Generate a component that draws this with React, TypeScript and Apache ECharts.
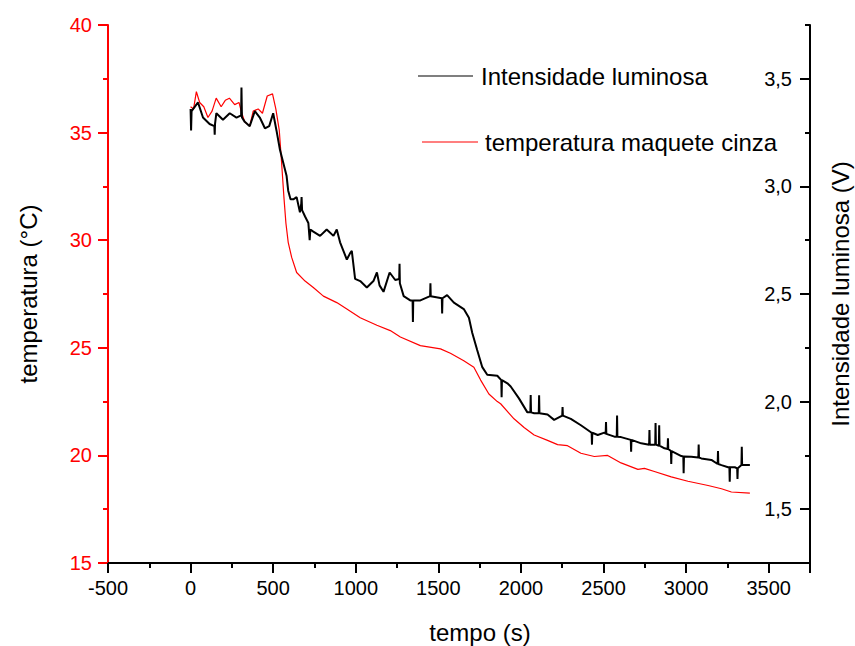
import React, { useEffect, useRef } from "react";
import * as echarts from "echarts";

// temperatura maquete cinza (°C), left axis
const tempTime = [0, 18, 35, 55, 80, 105, 130, 155, 185, 210, 235, 267, 293, 310, 328, 358, 379, 409, 435, 464, 496, 516, 537, 551, 565, 577, 591, 612, 642, 693, 743, 804, 885, 946, 1027, 1128, 1209, 1270, 1391, 1513, 1573, 1654, 1715, 1756, 1806, 1857, 1877, 1958, 2019, 2080, 2161, 2222, 2282, 2363, 2444, 2525, 2606, 2708, 2748, 2808, 2910, 3011, 3133, 3214, 3274, 3386];
const tempValues = [36.2, 36.1, 36.9, 36.4, 36.2, 35.7, 36.0, 36.6, 36.2, 36.5, 36.6, 36.3, 36.4, 35.9, 35.5, 35.3, 36.0, 36.1, 35.9, 36.7, 36.8, 36.1, 35.1, 33.6, 32.0, 30.8, 29.9, 29.2, 28.5, 28.1, 27.8, 27.4, 27.1, 26.8, 26.4, 26.05, 25.8, 25.5, 25.1, 24.95, 24.75, 24.4, 24.1, 23.5, 22.85, 22.5, 22.4, 21.7, 21.3, 20.95, 20.7, 20.5, 20.45, 20.1, 19.95, 20.0, 19.65, 19.35, 19.4, 19.25, 19.0, 18.8, 18.6, 18.45, 18.3, 18.25];

// Intensidade luminosa (V), right axis
const lumTime = [0, 3, 6, 45, 75, 115, 144, 146, 148, 156, 196, 237, 278, 306, 308, 311, 328, 358, 389, 419, 450, 476, 500, 520, 541, 561, 581, 591, 605, 622, 642, 662, 670, 672, 675, 693, 713, 721, 725, 743, 784, 824, 865, 885, 905, 946, 966, 976, 996, 1027, 1067, 1107, 1128, 1144, 1168, 1205, 1239, 1263, 1265, 1267, 1290, 1330, 1344, 1346, 1348, 1391, 1450, 1452, 1454, 1521, 1523, 1525, 1553, 1594, 1654, 1685, 1705, 1735, 1766, 1796, 1857, 1881, 1883, 1885, 1918, 1938, 1988, 2039, 2057, 2059, 2061, 2080, 2108, 2110, 2112, 2161, 2201, 2250, 2252, 2254, 2302, 2363, 2428, 2430, 2432, 2465, 2505, 2513, 2515, 2517, 2566, 2580, 2582, 2584, 2606, 2665, 2667, 2669, 2728, 2776, 2778, 2780, 2800, 2813, 2815, 2817, 2835, 2837, 2839, 2869, 2888, 2890, 2892, 2908, 2910, 2912, 2971, 2983, 2985, 2987, 3031, 3074, 3076, 3078, 3092, 3153, 3191, 3193, 3195, 3214, 3254, 3262, 3264, 3266, 3295, 3309, 3311, 3313, 3335, 3337, 3339, 3386];
const lumValues = [3.36, 3.26, 3.35, 3.39, 3.32, 3.29, 3.28, 3.24, 3.29, 3.34, 3.31, 3.34, 3.32, 3.33, 3.46, 3.32, 3.30, 3.28, 3.35, 3.32, 3.27, 3.28, 3.34, 3.26, 3.17, 3.11, 3.05, 2.98, 2.94, 2.94, 2.95, 2.88, 2.92, 2.95, 2.89, 2.86, 2.83, 2.75, 2.80, 2.79, 2.77, 2.80, 2.77, 2.80, 2.74, 2.66, 2.69, 2.70, 2.57, 2.56, 2.53, 2.56, 2.60, 2.54, 2.51, 2.60, 2.565, 2.57, 2.64, 2.55, 2.49, 2.47, 2.47, 2.37, 2.47, 2.47, 2.49, 2.55, 2.49, 2.48, 2.41, 2.48, 2.495, 2.46, 2.43, 2.39, 2.32, 2.24, 2.16, 2.125, 2.12, 2.10, 2.02, 2.10, 2.085, 2.07, 2.015, 1.95, 1.95, 2.03, 1.95, 1.946, 1.946, 2.03, 1.946, 1.94, 1.915, 1.935, 1.975, 1.935, 1.92, 1.89, 1.855, 1.80, 1.855, 1.845, 1.856, 1.85, 1.905, 1.85, 1.837, 1.837, 1.935, 1.837, 1.835, 1.822, 1.767, 1.822, 1.806, 1.80, 1.868, 1.80, 1.80, 1.80, 1.90, 1.80, 1.795, 1.89, 1.795, 1.783, 1.78, 1.83, 1.78, 1.77, 1.71, 1.77, 1.747, 1.745, 1.667, 1.745, 1.744, 1.74, 1.80, 1.74, 1.736, 1.729, 1.71, 1.77, 1.71, 1.705, 1.695, 1.695, 1.628, 1.695, 1.695, 1.69, 1.64, 1.69, 1.705, 1.79, 1.705, 1.705];

const xMin = -500;
const xMax = 3750;
const xMajorTicks = [-500, 0, 500, 1000, 1500, 2000, 2500, 3000, 3500, 3750];
const xLabelValues = [-500, 0, 500, 1000, 1500, 2000, 2500, 3000, 3500];
const tempMin = 15;
const tempMax = 40;
const lumMin = 1.25;
const lumMax = 3.75;
const lumLabels = [1.5, 2.0, 2.5, 3.0, 3.5];

const seriesTemp = "temperatura maquete cinza";
const seriesLum = "Intensidade luminosa";

const FONT = "'Liberation Sans', Arial, sans-serif";
const RED = "#ff0000";
const BLACK = "#000000";

export default function App() {
  const ref = useRef<HTMLDivElement>(null);
  useEffect(() => {
    if (!ref.current) return;
    const chart = echarts.init(ref.current, undefined, { renderer: "svg" });
    const tempData = tempTime.map((t, i) => [t, tempValues[i]]);
    const lumData = lumTime.map((t, i) => [t, lumValues[i]]);
    chart.setOption({
      animation: false,
      backgroundColor: "#ffffff",
      textStyle: { fontFamily: FONT },
      grid: { left: 108, right: 45, top: 25, bottom: 83, containLabel: false, outerBoundsMode: "none" },
      legend: [
        {
          data: [seriesLum],
          left: 418,
          top: 64,
          padding: 0,
          icon: "rect",
          itemWidth: 55,
          itemHeight: 1,
          textStyle: { fontSize: 24, color: BLACK, fontFamily: FONT, padding: [0, 0, 0, 3] },
          selectedMode: false,
        },
        {
          data: [seriesTemp],
          left: 422,
          top: 130,
          padding: 0,
          icon: "rect",
          itemWidth: 56,
          itemHeight: 1,
          textStyle: { fontSize: 24, color: BLACK, fontFamily: FONT, padding: [0, 0, 0, 2] },
          selectedMode: false,
        },
      ],
      xAxis: [
        {
          type: "value",
          min: xMin,
          max: xMax,
          position: "bottom",
          name: "tempo (s)",
          nameLocation: "middle",
          nameGap: 57,
          nameTextStyle: { fontSize: 24, color: BLACK, fontFamily: FONT, padding: [0, 0, 0, 42] },
          axisLine: { show: true, onZero: false, lineStyle: { color: BLACK, width: 2 } },
          axisTick: { show: true, customValues: xMajorTicks, length: 10, lineStyle: { color: BLACK, width: 2 } },
          axisLabel: {
            customValues: xLabelValues,
            fontSize: 20,
            color: BLACK,
            fontFamily: FONT,
            margin: 15,
            formatter: (v: number) => String(v),
          },
          splitLine: { show: false },
        },
        {
          type: "value",
          min: xMin,
          max: xMax,
          interval: 250,
          position: "bottom",
          axisLine: { show: false, onZero: false },
          axisTick: { show: true, length: 5, lineStyle: { color: BLACK, width: 2 } },
          axisLabel: { show: false },
          splitLine: { show: false },
        },
      ],
      yAxis: [
        {
          type: "value",
          min: tempMin,
          max: tempMax,
          interval: 5,
          position: "left",
          name: "temperatura (°C)",
          nameLocation: "middle",
          nameRotate: 90,
          nameGap: 68,
          nameTextStyle: { fontSize: 24, color: BLACK, fontFamily: FONT },
          axisLine: { show: true, onZero: false, lineStyle: { color: RED, width: 2 } },
          axisTick: { show: true, length: 10, lineStyle: { color: RED, width: 2 } },
          minorTick: { show: true, splitNumber: 2, length: 5, lineStyle: { color: RED, width: 2 } },
          axisLabel: { fontSize: 20, color: RED, fontFamily: FONT, margin: 16, formatter: (v: number) => String(v) },
          splitLine: { show: false },
          minorSplitLine: { show: false },
        },
        {
          type: "value",
          min: lumMin,
          max: lumMax,
          position: "right",
          name: "Intensidade luminosa (V)",
          nameLocation: "middle",
          nameRotate: 90,
          nameGap: 18,
          nameTextStyle: { fontSize: 24, color: BLACK, fontFamily: FONT },
          axisLine: { show: true, onZero: false, lineStyle: { color: BLACK, width: 2 } },
          axisTick: { show: true, inside: true, customValues: lumLabels, length: 10, lineStyle: { color: BLACK, width: 2 } },
          axisLabel: {
            inside: true,
            customValues: lumLabels,
            fontSize: 20,
            color: BLACK,
            fontFamily: FONT,
            margin: 18,
            formatter: (v: number) => v.toFixed(1).replace(".", ","),
          },
          splitLine: { show: false },
        },
        {
          type: "value",
          min: lumMin,
          max: lumMax,
          interval: 0.25,
          position: "right",
          axisLine: { show: false, onZero: false },
          axisTick: { show: true, inside: true, length: 5, lineStyle: { color: BLACK, width: 2 } },
          axisLabel: { show: false },
          splitLine: { show: false },
        },
      ],
      series: [
        {
          name: seriesTemp,
          type: "line",
          xAxisIndex: 0,
          yAxisIndex: 0,
          data: tempData,
          symbol: "none",
          showSymbol: false,
          lineStyle: { color: RED, width: 1.2 },
          itemStyle: { color: RED },
        },
        {
          name: seriesLum,
          type: "line",
          xAxisIndex: 0,
          yAxisIndex: 1,
          data: lumData,
          symbol: "none",
          showSymbol: false,
          lineStyle: { color: BLACK, width: 2 },
          itemStyle: { color: BLACK },
        },
      ],
    });
    return () => chart.dispose();
  }, []);
  return (
    <div
      ref={ref}
      style={{ position: "fixed", left: 0, top: 0, width: 855, height: 646, background: "#fff" }}
    />
  );
}
